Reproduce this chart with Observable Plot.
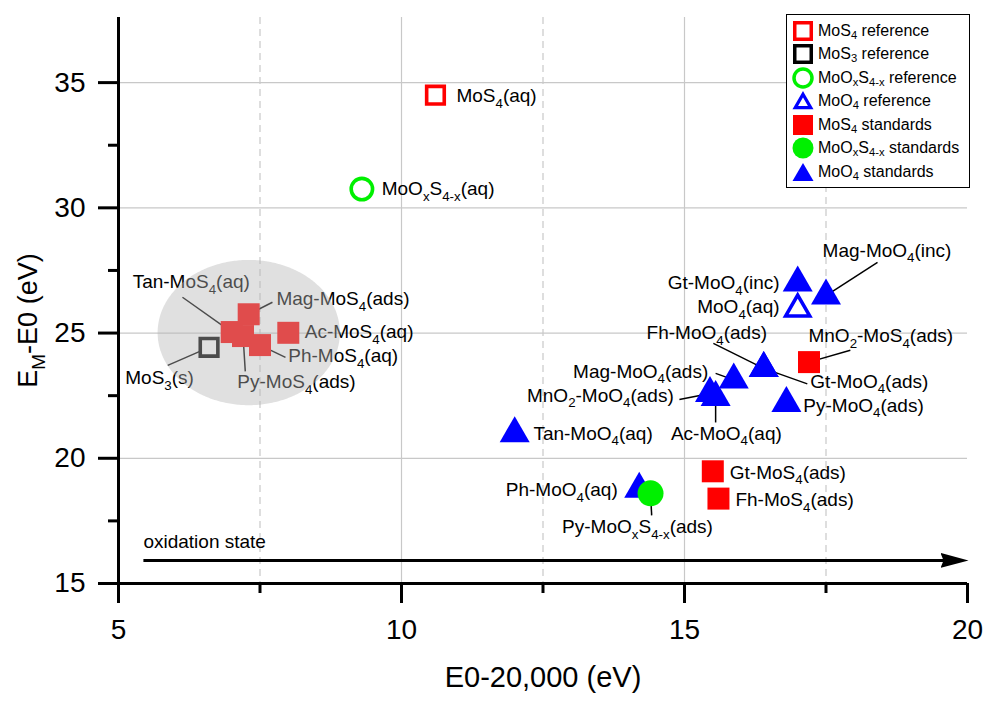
<!DOCTYPE html>
<html>
<head>
<meta charset="utf-8">
<script src="https://cdn.jsdelivr.net/npm/d3@7"></script>
<script src="https://cdn.jsdelivr.net/npm/@observablehq/plot@0.6"></script>
<style>
  html, body { margin: 0; padding: 0; background: #fff; }
  #chart { position: relative; width: 987px; height: 702px; font-family: "Liberation Sans", Arial, sans-serif; }
  #chart svg { display: block; }
  .legend { position: absolute; left: 786px; top: 14px; width: 184px; height: 174px; box-sizing: border-box;
            border: 1.5px solid #000; background: #fff; }
  .legend .row { position: absolute; left: 0; height: 24px; display: flex; align-items: center; }
  .legend .row svg { position: absolute; left: 3px; top: 0; }
  .legend .row span.lbl { position: absolute; left: 31px; white-space: nowrap; font-size: 16px; line-height: 24px; top: 0; color: #000; }
  .legend sub { font-size: 70%; vertical-align: -0.28em; line-height: 0; }
</style>
</head>
<body>
<div id="chart"></div>
<script>
// ---- Reference compounds (open symbols) ----
const refNames  = ["MoS_{4}(aq)", "MoS_{3}(s)", "MoO_{x}S_{4-x}(aq)", "MoO_{4}(aq)"];
const refSeries = ["MoS4 reference", "MoS3 reference", "MoOxS4-x reference", "MoO4 reference"];
const refE0 = [10.6, 6.6, 9.3, 17.0];
const refEM = [34.5, 24.43, 30.75, 25.96];

// ---- MoS4 standards (filled squares) ----
const mos4Names = ["Tan-MoS_{4}(aq)", "Py-MoS_{4}(ads)", "Mag-MoS_{4}(ads)", "Ph-MoS_{4}(aq)", "Ac-MoS_{4}(aq)",
                   "MnO_{2}-MoS_{4}(ads)", "Gt-MoS_{4}(ads)", "Fh-MoS_{4}(ads)"];
const mos4E0 = [7.0, 7.2, 7.3, 7.5, 8.0, 17.2, 15.5, 15.6];
const mos4EM = [25.04, 24.88, 25.75, 24.52, 25.01, 23.84, 19.48, 18.39];

// ---- MoOxS4-x standards (filled circles) ----
const mooxsNames = ["Py-MoO_{x}S_{4-x}(ads)"];
const mooxsE0 = [14.4];
const mooxsEM = [18.6];

// ---- MoO4 standards (filled triangles) ----
const moo4Names = ["Gt-MoO_{4}(inc)", "Mag-MoO_{4}(inc)", "Gt-MoO_{4}(ads)", "Fh-MoO_{4}(ads)", "Mag-MoO_{4}(ads)",
                   "MnO_{2}-MoO_{4}(ads)", "Ac-MoO_{4}(aq)", "Py-MoO_{4}(ads)", "Tan-MoO_{4}(aq)", "Ph-MoO_{4}(aq)"];
const moo4E0 = [17.0, 17.5, 16.4, 16.4, 15.87, 15.45, 15.55, 16.8, 12.0, 14.2];
const moo4EM = [27.01, 26.49, 23.59, 23.59, 23.13, 22.59, 22.43, 22.19, 20.99, 18.77];

// ---- Axes ----
const xMajorTicks = [5, 10, 15, 20];
const xMinorTicks = [7.5, 12.5, 17.5];
const yMajorTicks = [15, 20, 25, 30, 35];
const yMinorTicks = [17.5, 22.5, 27.5, 32.5];
const xTitle = "E0-20,000 (eV)";
const yTitle = "E_{M}-E0 (eV)";
const arrowText = "oxidation state";

// ---- Legend entries ----
const legendLabels = ["MoS_{4} reference", "MoS_{3} reference", "MoO_{x}S_{4-x} reference", "MoO_{4} reference",
                      "MoS_{4} standards", "MoO_{x}S_{4-x} standards", "MoO_{4} standards"];

// ---- Annotation layout: label anchors and leader-line starts, in data units ----
const labelLayout = [
  {name: "MoS_{4}(aq)",            anchor: "start",  tx: 10.97, ty: 34.46},
  {name: "MoO_{x}S_{4-x}(aq)",     anchor: "start",  tx: 9.65,  ty: 30.74},
  {name: "MoS_{3}(s)",             anchor: "start",  tx: 5.12,  ty: 23.19, lx: 5.87,  ly: 23.71},
  {name: "Tan-MoS_{4}(aq)",        anchor: "start",  tx: 5.25,  ty: 27.03, lx: 6.13,  ly: 26.43},
  {name: "Mag-MoS_{4}(ads)",       anchor: "start",  tx: 7.79,  ty: 26.35, lx: 7.72,  ly: 26.23},
  {name: "Ac-MoS_{4}(aq)",         anchor: "start",  tx: 8.29,  ty: 25.03},
  {name: "Ph-MoS_{4}(aq)",         anchor: "start",  tx: 8.0,   ty: 24.07, lx: 7.95,  ly: 24.03},
  {name: "Py-MoS_{4}(ads)",        anchor: "start",  tx: 7.10,  ty: 23.03, lx: 7.24,  ly: 23.47},
  {name: "Mag-MoO_{4}(inc)",       anchor: "start",  tx: 17.44, ty: 28.30, lx: 18.41, ly: 27.82},
  {name: "Gt-MoO_{4}(inc)",        anchor: "end",    tx: 16.68, ty: 26.99},
  {name: "MoO_{4}(aq)",            anchor: "end",    tx: 16.68, ty: 26.03},
  {name: "Fh-MoO_{4}(ads)",        anchor: "start",  tx: 14.33, ty: 24.99, lx: 15.51, ly: 24.59},
  {name: "Gt-MoO_{4}(ads)",        anchor: "start",  tx: 17.22, ty: 23.05, lx: 17.17, ly: 22.97},
  {name: "MnO_{2}-MoS_{4}(ads)",   anchor: "start",  tx: 17.19, ty: 24.87, lx: 17.93, ly: 24.31},
  {name: "Py-MoO_{4}(ads)",        anchor: "start",  tx: 17.10, ty: 22.09},
  {name: "Mag-MoO_{4}(ads)",       anchor: "end",    tx: 15.42, ty: 23.45, lx: 15.55, ly: 23.39},
  {name: "MnO_{2}-MoO_{4}(ads)",   anchor: "end",    tx: 14.81, ty: 22.49, lx: 14.91, ly: 22.35},
  {name: "Ac-MoO_{4}(aq)",         anchor: "middle", tx: 15.74, ty: 20.99, lx: 15.55, ly: 21.43},
  {name: "Tan-MoO_{4}(aq)",        anchor: "start",  tx: 12.33, ty: 20.99},
  {name: "Ph-MoO_{4}(aq)",         anchor: "end",    tx: 13.82, ty: 18.72},
  {name: "Py-MoO_{x}S_{4-x}(ads)", anchor: "middle", tx: 14.17, ty: 17.24, lx: 14.42, ly: 17.72},
  {name: "Gt-MoS_{4}(ads)",        anchor: "start",  tx: 15.80, ty: 19.43},
  {name: "Fh-MoS_{4}(ads)",        anchor: "start",  tx: 15.90, ty: 18.32}
];

// Shaded ellipse around the low-energy MoS4 cluster, and the oxidation-state arrow
const clusterHighlight = {cx: 7.31, cy: 25.0, rx: 1.61, ry: 2.9};
const oxidationArrow = {x1: 5.44, x2: 20.0, y: 15.92, textY: 16.66};

// ---- Build tables ----
const zipRows = (names, xs, ys) => names.map((name, i) => ({name, x: xs[i], y: ys[i]}));
const refs   = refNames.map((name, i) => ({name, series: refSeries[i], x: refE0[i], y: refEM[i]}));
const mos4   = zipRows(mos4Names, mos4E0, mos4EM);
const mooxs  = zipRows(mooxsNames, mooxsE0, mooxsEM);
const moo4   = zipRows(moo4Names, moo4E0, moo4EM);
const allPts = new Map([...refs, ...mos4, ...mooxs, ...moo4].map(d => [d.name, d]));

const leaders = labelLayout.filter(d => d.lx !== undefined).map(d => {
  const p = allPts.get(d.name);
  return {x1: d.lx, y1: d.ly, x2: p.x, y2: p.y};
});

const ellipse = d3.range(0, 181).map(i => {
  const t = Math.PI * i / 180;
  const {cx, cy, rx, ry} = clusterHighlight;
  return {x: cx + rx * Math.cos(t), y1: cy - ry * Math.sin(t), y2: cy + ry * Math.sin(t)};
});

const RED = "#ff0000", GREEN = "#00f000", BLUE = "#0000ff", GRID = "#c8c8c8";
const LABEL_SIZE = 19, TICK_SIZE = 28, TITLE_SIZE = 29, Y_TITLE_SIZE = 27;

// Radii for d3 symbols: area = PI * r^2
const rSquare = Math.sqrt(22 * 22 / Math.PI);
const rOpenSquare = Math.sqrt(17.6 * 17.6 / Math.PI);
const rTriangle = Math.sqrt((Math.sqrt(3) / 4) * 30 * 30 / Math.PI);
const rOpenTriangle = Math.sqrt((Math.sqrt(3) / 4) * 24 * 24 / Math.PI);

const refStyle = {
  "MoS4 reference":     {symbol: "square",   r: rOpenSquare,   stroke: RED},
  "MoS3 reference":     {symbol: "square",   r: rOpenSquare,   stroke: "#000"},
  "MoOxS4-x reference": {symbol: "circle",   r: 10.7,          stroke: GREEN},
  "MoO4 reference":     {symbol: "triangle", r: rOpenTriangle, stroke: BLUE}
};

const labelMark = anchor => Plot.text(labelLayout, {
  filter: d => d.anchor === anchor, x: "tx", y: "ty", text: "name",
  textAnchor: anchor, fontSize: LABEL_SIZE, fill: "#000"
});

const chart = Plot.plot({
  width: 987,
  height: 702,
  marginLeft: 118,
  marginRight: 20,
  marginTop: 17,
  marginBottom: 119,
  x: {domain: [5, 20]},
  y: {domain: [15, 37.6]},
  style: {fontFamily: "'Liberation Sans', Arial, sans-serif", background: "#fff", overflow: "visible"},
  marks: [
    // grid
    Plot.ruleX(xMajorTicks.filter(v => v > 5 && v < 20), {stroke: GRID, strokeWidth: 1.2}),
    Plot.ruleX(xMinorTicks, {stroke: GRID, strokeWidth: 1.2, strokeDasharray: "7,5"}),
    Plot.ruleY(yMajorTicks.filter(v => v > 15), {stroke: GRID, strokeWidth: 1.2}),

    // leader lines
    Plot.link(leaders, {x1: "x1", y1: "y1", x2: "x2", y2: "y2", stroke: "#000", strokeWidth: 1.5}),

    // reference compounds
    ...Object.entries(refStyle).map(([series, s]) =>
      Plot.dot(refs, {filter: d => d.series === series, x: "x", y: "y", symbol: s.symbol, r: s.r,
                      fill: "#fff", stroke: s.stroke, strokeWidth: 3.6})),

    // standards
    Plot.dot(mos4, {x: "x", y: "y", symbol: "square", r: rSquare, fill: RED}),
    Plot.dot(moo4, {x: "x", y: "y", symbol: "triangle", r: rTriangle, fill: BLUE}),
    Plot.dot(mooxs, {x: "x", y: "y", symbol: "circle", r: 13, fill: GREEN}),

    // labels
    labelMark("start"), labelMark("end"), labelMark("middle"),

    // oxidation-state arrow
    Plot.link([oxidationArrow], {x1: "x1", x2: d => d.x2 - 0.3, y1: "y", y2: "y", stroke: "#000", strokeWidth: 3,
                                 ariaDescription: "oxidation-arrow"}),
    Plot.text([oxidationArrow], {x: "x1", y: "textY", text: () => arrowText, textAnchor: "start", fontSize: 19}),

    // shaded cluster
    Plot.areaY(ellipse, {x: "x", y1: "y1", y2: "y2", fill: "#b4b4b4", fillOpacity: 0.42}),

    // axes
    Plot.ruleX([5], {strokeWidth: 3}),
    Plot.ruleY([15], {strokeWidth: 3}),
    Plot.axisX({ticks: xMajorTicks, tickSize: 20, tickPadding: 16, strokeWidth: 3, fontSize: TICK_SIZE, label: null, tickFormat: d => d}),
    Plot.axisX({ticks: xMinorTicks, tickSize: 10, strokeWidth: 3, label: null, tickFormat: () => ""}),
    Plot.axisY({ticks: yMajorTicks, tickSize: 20, tickPadding: 13, strokeWidth: 3, fontSize: TICK_SIZE, label: null, tickFormat: d => d}),
    Plot.axisY({ticks: yMinorTicks, tickSize: 10, strokeWidth: 3, label: null, tickFormat: () => ""}),

    // axis titles
    Plot.text([xTitle], {frameAnchor: "bottom", dy: 103, text: d => d, textAnchor: "middle", fontSize: TITLE_SIZE}),
    Plot.text([yTitle], {frameAnchor: "left", rotate: -90, dx: -90, dy: 20, text: d => d, textAnchor: "middle", fontSize: Y_TITLE_SIZE})
  ]
});

const host = document.getElementById("chart");
host.appendChild(chart);

// Arrowhead for the oxidation-state arrow
const svg = d3.select(chart);
svg.append("defs").append("marker")
  .attr("id", "ox-head").attr("viewBox", "0 0 28 15").attr("refX", 10).attr("refY", 7.5)
  .attr("markerUnits", "userSpaceOnUse").attr("markerWidth", 28).attr("markerHeight", 15).attr("orient", "auto")
  .append("path").attr("d", "M0,0L28,7.5L0,15L3,7.5Z").attr("fill", "#000");
svg.selectAll("g[aria-description='oxidation-arrow'] path, g[aria-description='oxidation-arrow'] line")
  .attr("marker-end", "url(#ox-head)");

// Turn _{...} markup into subscript tspans
const subRe = /_\{([^}]*)\}/g;
chart.querySelectorAll("text").forEach(t => {
  if (t.children.length) return;
  const s = t.textContent;
  if (!s.includes("_{")) return;
  const fs = parseFloat(getComputedStyle(t).fontSize) || LABEL_SIZE;
  const shift = +(fs * 0.28).toFixed(2);
  t.textContent = "";
  let last = 0, m, lowered = false;
  const add = (str, sub) => {
    const sp = document.createElementNS("http://www.w3.org/2000/svg", "tspan");
    sp.textContent = str;
    if (sub) {
      sp.setAttribute("font-size", (fs * 0.7).toFixed(2));
      if (!lowered) { sp.setAttribute("dy", shift); lowered = true; }
    } else if (lowered) {
      sp.setAttribute("dy", -shift); lowered = false;
    }
    t.appendChild(sp);
  };
  subRe.lastIndex = 0;
  while ((m = subRe.exec(s))) {
    if (m.index > last) add(s.slice(last, m.index), false);
    add(m[1], true);
    last = subRe.lastIndex;
  }
  if (last < s.length) add(s.slice(last), false);
});

// Legend
const legendSymbols = [
  {shape: "square",   open: true,  color: RED},
  {shape: "square",   open: true,  color: "#000"},
  {shape: "circle",   open: true,  color: GREEN},
  {shape: "triangle", open: true,  color: BLUE},
  {shape: "square",   open: false, color: RED},
  {shape: "circle",   open: false, color: GREEN},
  {shape: "triangle", open: false, color: BLUE}
];
const legend = d3.select(host).append("div").attr("class", "legend");
legendLabels.forEach((label, i) => {
  const row = legend.append("div").attr("class", "row").style("top", (16.3 + i * 23.5 - 12 - 0.5) + "px");
  const s = row.append("svg").attr("width", 26).attr("height", 24);
  const sym = legendSymbols[i];
  const c = [13, 12];
  if (sym.shape === "square") {
    const side = sym.open ? 16.5 : 20;
    s.append("rect").attr("x", c[0] - side / 2).attr("y", c[1] - side / 2).attr("width", side).attr("height", side)
      .attr("fill", sym.open ? "#fff" : sym.color).attr("stroke", sym.open ? sym.color : "none").attr("stroke-width", 3.5);
  } else if (sym.shape === "circle") {
    s.append("circle").attr("cx", c[0]).attr("cy", c[1]).attr("r", sym.open ? 9 : 10.5)
      .attr("fill", sym.open ? "#fff" : sym.color).attr("stroke", sym.open ? sym.color : "none").attr("stroke-width", 3.5);
  } else {
    const w = sym.open ? 15.5 : 21, h = w * Math.sqrt(3) / 2;
    const cy = c[1] + h / 6;
    s.append("path").attr("d", `M${c[0]},${cy - 2 * h / 3}L${c[0] + w / 2},${cy + h / 3}L${c[0] - w / 2},${cy + h / 3}Z`)
      .attr("fill", sym.open ? "#fff" : sym.color).attr("stroke", sym.open ? sym.color : "none").attr("stroke-width", 3.2);
  }
  row.append("span").attr("class", "lbl").html(label.replace(/_\{([^}]*)\}/g, "<sub>$1</sub>"));
});
</script>
</body>
</html>
